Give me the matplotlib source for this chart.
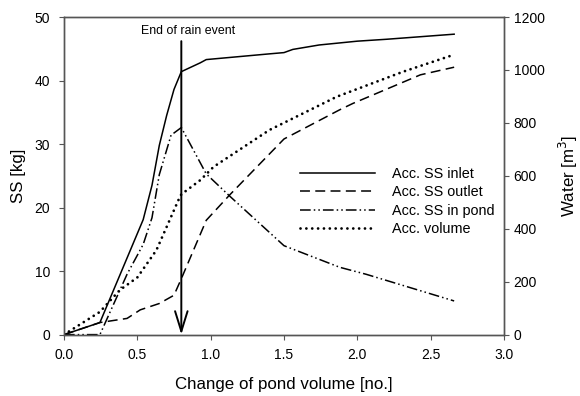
import numpy as np
import matplotlib.pyplot as plt
from matplotlib.lines import Line2D

plt.rcParams['font.family'] = ['Liberation Sans', 'DejaVu Sans']

# Acc. SS inlet [kg]
x_inlet = [0, 0.245, 0.54, 0.6, 0.65, 0.7, 0.75, 0.8, 0.93, 0.97, 1.4, 1.5, 1.56, 1.74, 2.0, 2.2, 2.66]
ss_inlet = [0, 1.9, 18.1, 23.5, 29.8, 34.5, 38.6, 41.4, 42.8, 43.3, 44.2, 44.4, 44.9, 45.6, 46.2, 46.5, 47.3]

# Acc. SS outlet [kg]
x_outlet = [0, 0.245, 0.43, 0.52, 0.65, 0.75, 0.8, 0.97, 1.13, 1.5, 1.88, 1.97, 2.43, 2.66]
ss_outlet = [0, 1.9, 2.55, 3.9, 4.9, 6.2, 8.8, 18.0, 22.0, 30.8, 35.4, 36.4, 40.9, 42.1]

# Acc. SS in pond [kg]
x_pond = [0, 0.245, 0.43, 0.54, 0.6, 0.65, 0.73, 0.8, 0.97, 1.13, 1.5, 1.88, 2.06, 2.66]
ss_pond = [0, 0, 9.5, 14.2, 18.4, 25.2, 31.4, 32.6, 25.3, 21.8, 14.0, 10.6, 9.5, 5.3]

# Acc. volume [m3]
x_vol = [0, 0.245, 0.38, 0.5, 0.63, 0.7, 0.78, 0.8, 0.93, 1.02, 1.4, 1.63, 1.86, 2.31, 2.65]
vol = [0, 86, 168, 216, 319, 407, 508, 530, 584, 634, 773, 836, 899, 993, 1056]

rain_end = 0.8

fig = plt.figure(figsize=(5.8, 3.96), dpi=100)
ax = fig.add_axes([0.1103, 0.155, 0.869 - 0.1103, 0.957 - 0.155])
ax2 = ax.twinx()

solid_style = dict(color='black', lw=1.1)
dash_style = dict(color='black', lw=1.1, linestyle=(0, (6.5, 3.5)))
dashdot_style = dict(color='black', lw=1.1, linestyle=(0, (7, 2, 1, 2, 1, 2)))
dot_style = dict(color='black', lw=2.0, linestyle=(0, (0.01, 2.1)), dash_capstyle='round')

ax.plot(x_inlet, ss_inlet, **solid_style)
ax.plot(x_outlet, ss_outlet, **dash_style)
ax.plot(x_pond, ss_pond, **dashdot_style)
ax2.plot(x_vol, vol, **dot_style)

ax.annotate('', xy=(rain_end, 0), xytext=(rain_end, 46.2),
            arrowprops=dict(arrowstyle='->,head_length=1.45,head_width=0.45',
                            lw=1.4, color='black', mutation_scale=10,
                            shrinkA=0, shrinkB=0))
ax.text(0.845, 47.8, 'End of rain event', ha='center', va='center', fontsize=8.9)

ax.set_xlim(0, 3)
ax.set_ylim(0, 50)
ax2.set_ylim(0, 1200)
ax.set_xticks(np.arange(0, 3.01, 0.5))
ax.set_xticklabels([f'{v:.1f}' for v in np.arange(0, 3.01, 0.5)])
ax.set_yticks(range(0, 51, 10))
ax2.set_yticks(range(0, 1201, 200))

for a in (ax, ax2):
    for s in a.spines.values():
        s.set_color('#555555')
        s.set_linewidth(1.0)
    a.tick_params(direction='out', length=3.5, width=0.8, color='#555555',
                  labelsize=10)
ax.tick_params(axis='x', pad=6)
ax.tick_params(axis='y', pad=6.5)
ax2.tick_params(axis='y', pad=3.5)

ax.set_xlabel('Change of pond volume [no.]', fontsize=12.2, labelpad=11)
ax.set_ylabel('SS [kg]', fontsize=12.2, labelpad=6)
ax2.set_ylabel('Water [m$^3$]', fontsize=12.2, labelpad=9)

handles = [Line2D([], [], **solid_style), Line2D([], [], **dash_style),
           Line2D([], [], **dashdot_style), Line2D([], [], **dot_style)]
labels = ['Acc. SS inlet', 'Acc. SS outlet', 'Acc. SS in pond', 'Acc. volume']
ax.legend(handles, labels, loc='upper left', bbox_to_anchor=(0.536, 0.528),
          frameon=False, fontsize=10.4, handlelength=5.2, handletextpad=1.2,
          labelspacing=0.3, borderpad=0, borderaxespad=0)

fig.savefig('out.png', dpi=100)
